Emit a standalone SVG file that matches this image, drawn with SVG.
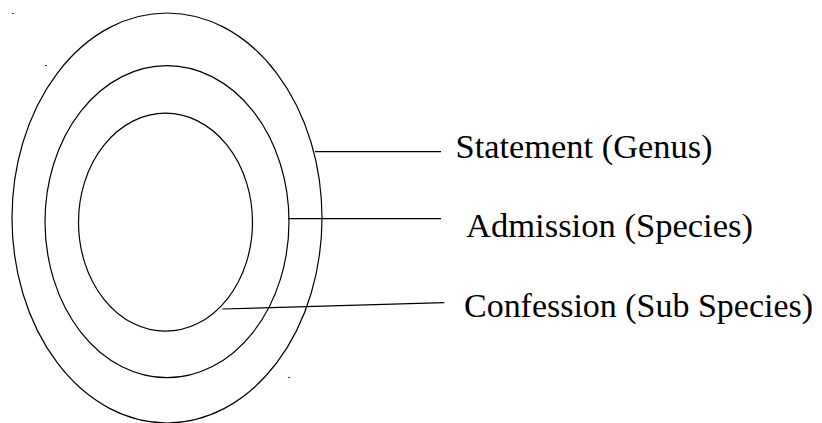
<svg xmlns="http://www.w3.org/2000/svg" width="822" height="423" viewBox="0 0 822 423">
<style>
.ring{fill:none;stroke:#000;stroke-width:1.2}
.conn{stroke:#000;stroke-width:1.2;fill:none}
.lbl{font-family:"Liberation Serif","Times New Roman",serif;font-size:34.5px;fill:#000}
.speck{fill:#333}
</style>
<rect width="822" height="423" fill="#fff"/>
<g id="outer-ring"><ellipse class="ring" cx="167" cy="218" rx="155" ry="205"/></g>
<g id="middle-ring"><ellipse class="ring" cx="167" cy="221.7" rx="122" ry="156"/></g>
<g id="inner-ring"><ellipse class="ring" cx="165.5" cy="222.2" rx="87" ry="109"/></g>
<g id="connectors">
<line class="conn" x1="315" y1="151.7" x2="441" y2="151.7"/>
<line class="conn" x1="288.3" y1="218.7" x2="441" y2="218.7"/>
<line class="conn" x1="222.3" y1="309" x2="444.3" y2="302.7"/>
</g>
<g id="label-statement"><text class="lbl" x="455.5" y="158" textLength="257" lengthAdjust="spacingAndGlyphs">Statement (Genus)</text></g>
<g id="label-admission"><text class="lbl" x="466" y="237" textLength="287" lengthAdjust="spacingAndGlyphs">Admission (Species)</text></g>
<g id="label-confession"><text class="lbl" x="464" y="317" textLength="349" lengthAdjust="spacingAndGlyphs">Confession (Sub Species)</text></g>
<rect class="speck" x="12" y="13" width="2" height="1"/>
<rect class="speck" x="45" y="65" width="2" height="1"/>
<rect class="speck" x="288" y="377" width="2" height="1"/>
</svg>
